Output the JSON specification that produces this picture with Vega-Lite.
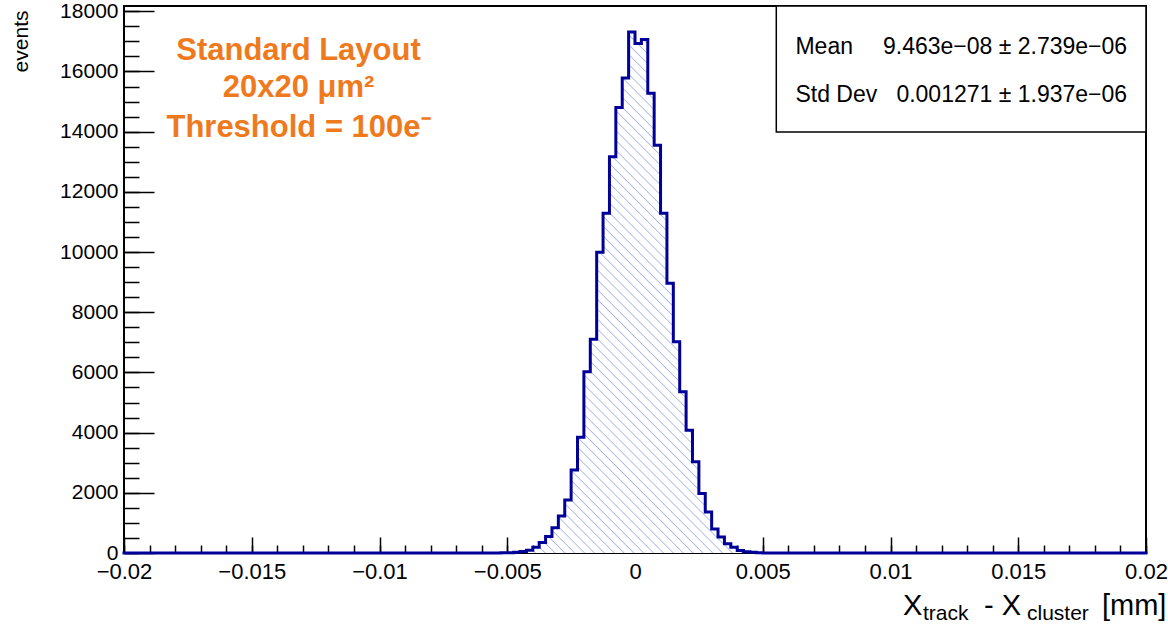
{
  "$schema": "https://vega.github.io/schema/vega-lite/v6.json",
  "width": 1022,
  "height": 547,
  "autosize": {"type": "none"},
  "padding": {"left": 124, "top": 6, "right": 22, "bottom": 71},
  "background": "white",
  "config": {
    "font": "Liberation Sans",
    "view": {"stroke": "#000", "strokeWidth": 2},
    "text": {"font": "Liberation Sans", "color": "#000"}
  },
  "resolve": {"axis": {"x": "independent", "y": "independent"}},
  "data": {"values": [
    {"x0": -0.02, "count": 0},
    {"x0": -0.00525, "count": 5},
    {"x0": -0.005, "count": 10},
    {"x0": -0.00475, "count": 25},
    {"x0": -0.0045, "count": 50},
    {"x0": -0.00425, "count": 90},
    {"x0": -0.004, "count": 190},
    {"x0": -0.00375, "count": 350},
    {"x0": -0.0035, "count": 545},
    {"x0": -0.00325, "count": 840},
    {"x0": -0.003, "count": 1230},
    {"x0": -0.00275, "count": 1760},
    {"x0": -0.0025, "count": 2760},
    {"x0": -0.00225, "count": 3850},
    {"x0": -0.002, "count": 6020},
    {"x0": -0.00175, "count": 7100},
    {"x0": -0.0015, "count": 9990},
    {"x0": -0.00125, "count": 11290},
    {"x0": -0.001, "count": 13170},
    {"x0": -0.00075, "count": 14800},
    {"x0": -0.0005, "count": 15780},
    {"x0": -0.00025, "count": 17310},
    {"x0": 0, "count": 16930},
    {"x0": 0.00025, "count": 17060},
    {"x0": 0.0005, "count": 15280},
    {"x0": 0.00075, "count": 13550},
    {"x0": 0.001, "count": 11290},
    {"x0": 0.00125, "count": 8960},
    {"x0": 0.0015, "count": 7020},
    {"x0": 0.00175, "count": 5360},
    {"x0": 0.002, "count": 4080},
    {"x0": 0.00225, "count": 3030},
    {"x0": 0.0025, "count": 1980},
    {"x0": 0.00275, "count": 1360},
    {"x0": 0.003, "count": 800},
    {"x0": 0.00325, "count": 535},
    {"x0": 0.0035, "count": 310},
    {"x0": 0.00375, "count": 190},
    {"x0": 0.004, "count": 85},
    {"x0": 0.00425, "count": 45},
    {"x0": 0.0045, "count": 22},
    {"x0": 0.00475, "count": 10},
    {"x0": 0.005, "count": 4},
    {"x0": 0.00525, "count": 0},
    {"x0": 0.02, "count": 0}
  ]},
  "layer": [
    {
      "transform": [{"filter": "datum.x0 >= -0.0053 && datum.x0 <= 0.0053"}],
      "mark": {"type": "area", "interpolate": "step-after", "opacity": 1, "strokeWidth": 0,
        "fill": {"gradient": "linear", "x1": 0, "y1": 1, "x2": 0.617, "y2": -0.197, "stops": [
          {"offset": 0, "color": "#fff"},
          {"offset": 0.0047, "color": "#fff"}, {"offset": 0.00625, "color": "#aab8e6"}, {"offset": 0.0078, "color": "#fff"},
          {"offset": 0.0172, "color": "#fff"}, {"offset": 0.01875, "color": "#aab8e6"}, {"offset": 0.0203, "color": "#fff"},
          {"offset": 0.0297, "color": "#fff"}, {"offset": 0.03125, "color": "#aab8e6"}, {"offset": 0.0328, "color": "#fff"},
          {"offset": 0.0422, "color": "#fff"}, {"offset": 0.04375, "color": "#aab8e6"}, {"offset": 0.0453, "color": "#fff"},
          {"offset": 0.0547, "color": "#fff"}, {"offset": 0.05625, "color": "#aab8e6"}, {"offset": 0.0578, "color": "#fff"},
          {"offset": 0.0672, "color": "#fff"}, {"offset": 0.06875, "color": "#aab8e6"}, {"offset": 0.0703, "color": "#fff"},
          {"offset": 0.0797, "color": "#fff"}, {"offset": 0.08125, "color": "#aab8e6"}, {"offset": 0.0828, "color": "#fff"},
          {"offset": 0.0922, "color": "#fff"}, {"offset": 0.09375, "color": "#aab8e6"}, {"offset": 0.0953, "color": "#fff"},
          {"offset": 0.1047, "color": "#fff"}, {"offset": 0.10625, "color": "#aab8e6"}, {"offset": 0.1078, "color": "#fff"},
          {"offset": 0.1172, "color": "#fff"}, {"offset": 0.11875, "color": "#aab8e6"}, {"offset": 0.1203, "color": "#fff"},
          {"offset": 0.1297, "color": "#fff"}, {"offset": 0.13125, "color": "#aab8e6"}, {"offset": 0.1328, "color": "#fff"},
          {"offset": 0.1422, "color": "#fff"}, {"offset": 0.14375, "color": "#aab8e6"}, {"offset": 0.1453, "color": "#fff"},
          {"offset": 0.1547, "color": "#fff"}, {"offset": 0.15625, "color": "#aab8e6"}, {"offset": 0.1578, "color": "#fff"},
          {"offset": 0.1672, "color": "#fff"}, {"offset": 0.16875, "color": "#aab8e6"}, {"offset": 0.1703, "color": "#fff"},
          {"offset": 0.1797, "color": "#fff"}, {"offset": 0.18125, "color": "#aab8e6"}, {"offset": 0.1828, "color": "#fff"},
          {"offset": 0.1922, "color": "#fff"}, {"offset": 0.19375, "color": "#aab8e6"}, {"offset": 0.1953, "color": "#fff"},
          {"offset": 0.2047, "color": "#fff"}, {"offset": 0.20625, "color": "#aab8e6"}, {"offset": 0.2078, "color": "#fff"},
          {"offset": 0.2172, "color": "#fff"}, {"offset": 0.21875, "color": "#aab8e6"}, {"offset": 0.2203, "color": "#fff"},
          {"offset": 0.2297, "color": "#fff"}, {"offset": 0.23125, "color": "#aab8e6"}, {"offset": 0.2328, "color": "#fff"},
          {"offset": 0.2422, "color": "#fff"}, {"offset": 0.24375, "color": "#aab8e6"}, {"offset": 0.2453, "color": "#fff"},
          {"offset": 0.2547, "color": "#fff"}, {"offset": 0.25625, "color": "#aab8e6"}, {"offset": 0.2578, "color": "#fff"},
          {"offset": 0.2672, "color": "#fff"}, {"offset": 0.26875, "color": "#aab8e6"}, {"offset": 0.2703, "color": "#fff"},
          {"offset": 0.2797, "color": "#fff"}, {"offset": 0.28125, "color": "#aab8e6"}, {"offset": 0.2828, "color": "#fff"},
          {"offset": 0.2922, "color": "#fff"}, {"offset": 0.29375, "color": "#aab8e6"}, {"offset": 0.2953, "color": "#fff"},
          {"offset": 0.3047, "color": "#fff"}, {"offset": 0.30625, "color": "#aab8e6"}, {"offset": 0.3078, "color": "#fff"},
          {"offset": 0.3172, "color": "#fff"}, {"offset": 0.31875, "color": "#aab8e6"}, {"offset": 0.3203, "color": "#fff"},
          {"offset": 0.3297, "color": "#fff"}, {"offset": 0.33125, "color": "#aab8e6"}, {"offset": 0.3328, "color": "#fff"},
          {"offset": 0.3422, "color": "#fff"}, {"offset": 0.34375, "color": "#aab8e6"}, {"offset": 0.3453, "color": "#fff"},
          {"offset": 0.3547, "color": "#fff"}, {"offset": 0.35625, "color": "#aab8e6"}, {"offset": 0.3578, "color": "#fff"},
          {"offset": 0.3672, "color": "#fff"}, {"offset": 0.36875, "color": "#aab8e6"}, {"offset": 0.3703, "color": "#fff"},
          {"offset": 0.3797, "color": "#fff"}, {"offset": 0.38125, "color": "#aab8e6"}, {"offset": 0.3828, "color": "#fff"},
          {"offset": 0.3922, "color": "#fff"}, {"offset": 0.39375, "color": "#aab8e6"}, {"offset": 0.3953, "color": "#fff"},
          {"offset": 0.4047, "color": "#fff"}, {"offset": 0.40625, "color": "#aab8e6"}, {"offset": 0.4078, "color": "#fff"},
          {"offset": 0.4172, "color": "#fff"}, {"offset": 0.41875, "color": "#aab8e6"}, {"offset": 0.4203, "color": "#fff"},
          {"offset": 0.4297, "color": "#fff"}, {"offset": 0.43125, "color": "#aab8e6"}, {"offset": 0.4328, "color": "#fff"},
          {"offset": 0.4422, "color": "#fff"}, {"offset": 0.44375, "color": "#aab8e6"}, {"offset": 0.4453, "color": "#fff"},
          {"offset": 0.4547, "color": "#fff"}, {"offset": 0.45625, "color": "#aab8e6"}, {"offset": 0.4578, "color": "#fff"},
          {"offset": 0.4672, "color": "#fff"}, {"offset": 0.46875, "color": "#aab8e6"}, {"offset": 0.4703, "color": "#fff"},
          {"offset": 0.4797, "color": "#fff"}, {"offset": 0.48125, "color": "#aab8e6"}, {"offset": 0.4828, "color": "#fff"},
          {"offset": 0.4922, "color": "#fff"}, {"offset": 0.49375, "color": "#aab8e6"}, {"offset": 0.4953, "color": "#fff"},
          {"offset": 0.5047, "color": "#fff"}, {"offset": 0.50625, "color": "#aab8e6"}, {"offset": 0.5078, "color": "#fff"},
          {"offset": 0.5172, "color": "#fff"}, {"offset": 0.51875, "color": "#aab8e6"}, {"offset": 0.5203, "color": "#fff"},
          {"offset": 0.5297, "color": "#fff"}, {"offset": 0.53125, "color": "#aab8e6"}, {"offset": 0.5328, "color": "#fff"},
          {"offset": 0.5422, "color": "#fff"}, {"offset": 0.54375, "color": "#aab8e6"}, {"offset": 0.5453, "color": "#fff"},
          {"offset": 0.5547, "color": "#fff"}, {"offset": 0.55625, "color": "#aab8e6"}, {"offset": 0.5578, "color": "#fff"},
          {"offset": 0.5672, "color": "#fff"}, {"offset": 0.56875, "color": "#aab8e6"}, {"offset": 0.5703, "color": "#fff"},
          {"offset": 0.5797, "color": "#fff"}, {"offset": 0.58125, "color": "#aab8e6"}, {"offset": 0.5828, "color": "#fff"},
          {"offset": 0.5922, "color": "#fff"}, {"offset": 0.59375, "color": "#aab8e6"}, {"offset": 0.5953, "color": "#fff"},
          {"offset": 0.6047, "color": "#fff"}, {"offset": 0.60625, "color": "#aab8e6"}, {"offset": 0.6078, "color": "#fff"},
          {"offset": 0.6172, "color": "#fff"}, {"offset": 0.61875, "color": "#aab8e6"}, {"offset": 0.6203, "color": "#fff"},
          {"offset": 0.6297, "color": "#fff"}, {"offset": 0.63125, "color": "#aab8e6"}, {"offset": 0.6328, "color": "#fff"},
          {"offset": 0.6422, "color": "#fff"}, {"offset": 0.64375, "color": "#aab8e6"}, {"offset": 0.6453, "color": "#fff"},
          {"offset": 0.6547, "color": "#fff"}, {"offset": 0.65625, "color": "#aab8e6"}, {"offset": 0.6578, "color": "#fff"},
          {"offset": 0.6672, "color": "#fff"}, {"offset": 0.66875, "color": "#aab8e6"}, {"offset": 0.6703, "color": "#fff"},
          {"offset": 0.6797, "color": "#fff"}, {"offset": 0.68125, "color": "#aab8e6"}, {"offset": 0.6828, "color": "#fff"},
          {"offset": 0.6922, "color": "#fff"}, {"offset": 0.69375, "color": "#aab8e6"}, {"offset": 0.6953, "color": "#fff"},
          {"offset": 0.7047, "color": "#fff"}, {"offset": 0.70625, "color": "#aab8e6"}, {"offset": 0.7078, "color": "#fff"},
          {"offset": 0.7172, "color": "#fff"}, {"offset": 0.71875, "color": "#aab8e6"}, {"offset": 0.7203, "color": "#fff"},
          {"offset": 0.7297, "color": "#fff"}, {"offset": 0.73125, "color": "#aab8e6"}, {"offset": 0.7328, "color": "#fff"},
          {"offset": 0.7422, "color": "#fff"}, {"offset": 0.74375, "color": "#aab8e6"}, {"offset": 0.7453, "color": "#fff"},
          {"offset": 0.7547, "color": "#fff"}, {"offset": 0.75625, "color": "#aab8e6"}, {"offset": 0.7578, "color": "#fff"},
          {"offset": 0.7672, "color": "#fff"}, {"offset": 0.76875, "color": "#aab8e6"}, {"offset": 0.7703, "color": "#fff"},
          {"offset": 0.7797, "color": "#fff"}, {"offset": 0.78125, "color": "#aab8e6"}, {"offset": 0.7828, "color": "#fff"},
          {"offset": 0.7922, "color": "#fff"}, {"offset": 0.79375, "color": "#aab8e6"}, {"offset": 0.7953, "color": "#fff"},
          {"offset": 0.8047, "color": "#fff"}, {"offset": 0.80625, "color": "#aab8e6"}, {"offset": 0.8078, "color": "#fff"},
          {"offset": 0.8172, "color": "#fff"}, {"offset": 0.81875, "color": "#aab8e6"}, {"offset": 0.8203, "color": "#fff"},
          {"offset": 0.8297, "color": "#fff"}, {"offset": 0.83125, "color": "#aab8e6"}, {"offset": 0.8328, "color": "#fff"},
          {"offset": 0.8422, "color": "#fff"}, {"offset": 0.84375, "color": "#aab8e6"}, {"offset": 0.8453, "color": "#fff"},
          {"offset": 0.8547, "color": "#fff"}, {"offset": 0.85625, "color": "#aab8e6"}, {"offset": 0.8578, "color": "#fff"},
          {"offset": 0.8672, "color": "#fff"}, {"offset": 0.86875, "color": "#aab8e6"}, {"offset": 0.8703, "color": "#fff"},
          {"offset": 0.8797, "color": "#fff"}, {"offset": 0.88125, "color": "#aab8e6"}, {"offset": 0.8828, "color": "#fff"},
          {"offset": 0.8922, "color": "#fff"}, {"offset": 0.89375, "color": "#aab8e6"}, {"offset": 0.8953, "color": "#fff"},
          {"offset": 0.9047, "color": "#fff"}, {"offset": 0.90625, "color": "#aab8e6"}, {"offset": 0.9078, "color": "#fff"},
          {"offset": 0.9172, "color": "#fff"}, {"offset": 0.91875, "color": "#aab8e6"}, {"offset": 0.9203, "color": "#fff"},
          {"offset": 0.9297, "color": "#fff"}, {"offset": 0.93125, "color": "#aab8e6"}, {"offset": 0.9328, "color": "#fff"},
          {"offset": 0.9422, "color": "#fff"}, {"offset": 0.94375, "color": "#aab8e6"}, {"offset": 0.9453, "color": "#fff"},
          {"offset": 0.9547, "color": "#fff"}, {"offset": 0.95625, "color": "#aab8e6"}, {"offset": 0.9578, "color": "#fff"},
          {"offset": 0.9672, "color": "#fff"}, {"offset": 0.96875, "color": "#aab8e6"}, {"offset": 0.9703, "color": "#fff"},
          {"offset": 0.9797, "color": "#fff"}, {"offset": 0.98125, "color": "#aab8e6"}, {"offset": 0.9828, "color": "#fff"},
          {"offset": 0.9922, "color": "#fff"}, {"offset": 0.99375, "color": "#aab8e6"}, {"offset": 0.9953, "color": "#fff"},
          {"offset": 1, "color": "#fff"}
        ]}},
      "encoding": {
        "x": {"field": "x0", "type": "quantitative",
          "axis": {"orient": "bottom", "title": null, "domain": false, "grid": false, "labels": false,
            "values": [-0.02,-0.019,-0.018,-0.017,-0.016,-0.015,-0.014,-0.013,-0.012,-0.011,-0.01,-0.009,-0.008,-0.007,-0.006,-0.005,-0.004,-0.003,-0.002,-0.001,0,0.001,0.002,0.003,0.004,0.005,0.006,0.007,0.008,0.009,0.01,0.011,0.012,0.013,0.014,0.015,0.016,0.017,0.018,0.019,0.02],
            "tickColor": "#000", "tickWidth": 1.5, "tickSize": -8}
        },
        "y": {"field": "count", "type": "quantitative",
          "axis": {"orient": "left", "title": null, "domain": false, "grid": false, "labels": false,
            "values": [0,500,1000,1500,2000,2500,3000,3500,4000,4500,5000,5500,6000,6500,7000,7500,8000,8500,9000,9500,10000,10500,11000,11500,12000,12500,13000,13500,14000,14500,15000,15500,16000,16500,17000,17500,18000],
            "tickColor": "#000", "tickWidth": 1.5, "tickSize": -15}
        }
      }
    },
    {
      "mark": {"type": "line", "interpolate": "step-after", "color": "#000099", "strokeWidth": 3, "strokeJoin": "miter", "strokeCap": "square"},
      "encoding": {
        "x": {"field": "x0", "type": "quantitative",
          "scale": {"domain": [-0.02, 0.02], "nice": false, "zero": false},
          "axis": {"orient": "bottom", "title": null, "domain": false, "grid": false,
            "values": [-0.02,-0.015,-0.01,-0.005,0,0.005,0.01,0.015,0.02],
            "labelExpr": "format(datum.value, '~g')",
            "labelFont": "Liberation Sans", "labelFontSize": 22, "labelColor": "#000",
            "labelFlush": false, "labelOverlap": false, "labelBound": false,
            "labelPadding": 24,
            "tickColor": "#000", "tickWidth": 1.5, "tickSize": -16
          }
        },
        "y": {"field": "count", "type": "quantitative",
          "scale": {"domain": [0, 18176], "nice": false},
          "axis": {"orient": "left", "title": "events", "domain": false, "grid": false,
            "values": [0,2000,4000,6000,8000,10000,12000,14000,16000,18000],
            "format": "d",
            "labelFont": "Liberation Sans", "labelFontSize": 21, "labelColor": "#000",
            "labelOverlap": false, "labelBound": false,
            "labelPadding": 36,
            "tickColor": "#000", "tickWidth": 1.5, "tickSize": -30,
            "titleFont": "Liberation Sans", "titleFontSize": 21, "titleFontWeight": "normal", "titleColor": "#000",
            "titleAngle": -90, "titleAlign": "right", "titleBaseline": "alphabetic", "titleX": -97, "titleY": 4
          }
        }
      }
    },
    {
      "data": {"values": [{}]},
      "mark": {"type": "rect", "fill": "#fff", "stroke": "#000", "strokeWidth": 1.5},
      "encoding": {
        "x": {"datum": 0.00553, "type": "quantitative", "axis": null},
        "x2": {"datum": 0.02},
        "y": {"datum": 13991, "type": "quantitative", "axis": null},
        "y2": {"datum": 18176}
      }
    },
    {
      "data": {"values": [{}]},
      "mark": {"type": "text", "text": "Mean", "align": "left", "baseline": "alphabetic", "fontSize": 23},
      "encoding": {"x": {"datum": 0.00628, "type": "quantitative", "axis": null}, "y": {"datum": 16573, "type": "quantitative", "axis": null}}
    },
    {
      "data": {"values": [{}]},
      "mark": {"type": "text", "text": "9.463e−08 ± 2.739e−06", "align": "right", "baseline": "alphabetic", "fontSize": 23},
      "encoding": {"x": {"datum": 0.01926, "type": "quantitative", "axis": null}, "y": {"datum": 16573, "type": "quantitative", "axis": null}}
    },
    {
      "data": {"values": [{}]},
      "mark": {"type": "text", "text": "Std Dev", "align": "left", "baseline": "alphabetic", "fontSize": 23},
      "encoding": {"x": {"datum": 0.00628, "type": "quantitative", "axis": null}, "y": {"datum": 14998, "type": "quantitative", "axis": null}}
    },
    {
      "data": {"values": [{}]},
      "mark": {"type": "text", "text": "0.001271 ± 1.937e−06", "align": "right", "baseline": "alphabetic", "fontSize": 23},
      "encoding": {"x": {"datum": 0.01926, "type": "quantitative", "axis": null}, "y": {"datum": 14998, "type": "quantitative", "axis": null}}
    },
    {
      "data": {"values": [{}]},
      "mark": {"type": "text", "text": "Standard Layout", "align": "center", "baseline": "alphabetic", "fontSize": 31, "fontWeight": "bold", "color": "#ef7a1e"},
      "encoding": {"x": {"datum": -0.01317, "type": "quantitative", "axis": null}, "y": {"datum": 16384, "type": "quantitative", "axis": null}}
    },
    {
      "data": {"values": [{}]},
      "mark": {"type": "text", "text": "20x20 μm²", "align": "center", "baseline": "alphabetic", "fontSize": 31, "fontWeight": "bold", "color": "#ef7a1e"},
      "encoding": {"x": {"datum": -0.01317, "type": "quantitative", "axis": null}, "y": {"datum": 15154, "type": "quantitative", "axis": null}}
    },
    {
      "data": {"values": [{}]},
      "mark": {"type": "text", "text": "Threshold = 100e⁻", "align": "center", "baseline": "alphabetic", "fontSize": 31, "fontWeight": "bold", "color": "#ef7a1e"},
      "encoding": {"x": {"datum": -0.01317, "type": "quantitative", "axis": null}, "y": {"datum": 13825, "type": "quantitative", "axis": null}}
    },
    {
      "data": {"values": [{}]},
      "mark": {"type": "text", "text": "X", "align": "left", "baseline": "alphabetic", "fontSize": 29, "dx": -243, "dy": 62},
      "encoding": {"x": {"datum": 0.02, "type": "quantitative", "axis": null}, "y": {"datum": 0, "type": "quantitative", "axis": null}}
    },
    {
      "data": {"values": [{}]},
      "mark": {"type": "text", "text": "track", "align": "left", "baseline": "alphabetic", "fontSize": 21, "dx": -223, "dy": 67},
      "encoding": {"x": {"datum": 0.02, "type": "quantitative", "axis": null}, "y": {"datum": 0, "type": "quantitative", "axis": null}}
    },
    {
      "data": {"values": [{}]},
      "mark": {"type": "text", "text": "- X", "align": "left", "baseline": "alphabetic", "fontSize": 29, "dx": -162, "dy": 62},
      "encoding": {"x": {"datum": 0.02, "type": "quantitative", "axis": null}, "y": {"datum": 0, "type": "quantitative", "axis": null}}
    },
    {
      "data": {"values": [{}]},
      "mark": {"type": "text", "text": "cluster", "align": "left", "baseline": "alphabetic", "fontSize": 21, "dx": -119, "dy": 67},
      "encoding": {"x": {"datum": 0.02, "type": "quantitative", "axis": null}, "y": {"datum": 0, "type": "quantitative", "axis": null}}
    },
    {
      "data": {"values": [{}]},
      "mark": {"type": "text", "text": "[mm]", "align": "left", "baseline": "alphabetic", "fontSize": 29, "dx": -44, "dy": 62},
      "encoding": {"x": {"datum": 0.02, "type": "quantitative", "axis": null}, "y": {"datum": 0, "type": "quantitative", "axis": null}}
    }
  ]
}
